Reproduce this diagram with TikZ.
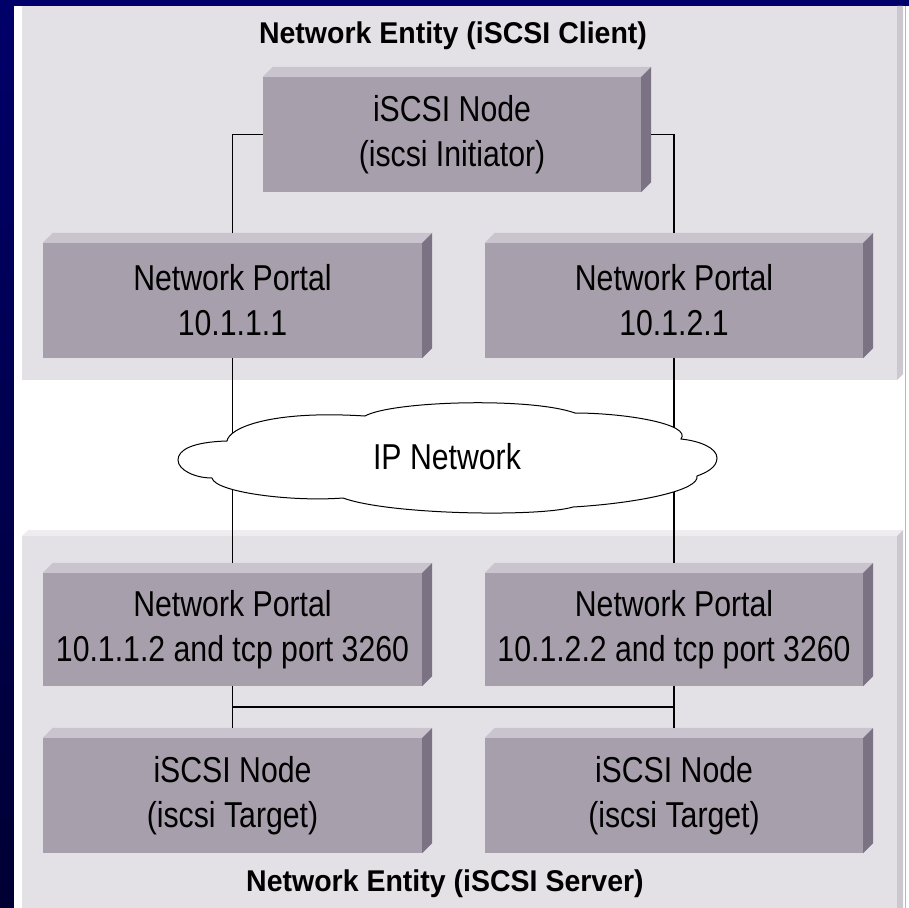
\documentclass[tikz,border=0pt]{standalone}
\usepackage{fontspec}
\newfontfamily\boxfont{Liberation Sans}[FakeStretch=0.84]
\newfontfamily\headfont{Liberation Sans}[FakeStretch=0.95]
\usetikzlibrary{calc}

\definecolor{navytop}{HTML}{00006A}
\definecolor{navybot}{HTML}{000034}
\definecolor{panelfront}{HTML}{E3E0E6}
\definecolor{paneltop}{HTML}{EEECF0}
\definecolor{panelside}{HTML}{CCC8D0}
\definecolor{boxfront}{HTML}{A7A0AC}
\definecolor{boxtop}{HTML}{C9C4CD}
\definecolor{boxside}{HTML}{7B7384}

\tikzset{
  unit/.style={fill=boxfront, inner sep=0pt, align=center, text=black,
    minimum width=379pt, minimum height=115pt,
    font=\boxfont\fontsize{36}{45}\selectfont},
  wire/.style={draw=black, line width=1.3pt},
  heading/.style={inner sep=0pt, text=black,
    font=\headfont\bfseries\fontsize{30}{36}\selectfont},
  cloudtext/.style={inner sep=0pt, text=black,
    font=\boxfont\fontsize{36}{45}\selectfont},
}

% top and right faces of an extruded box node
\newcommand\extrude[2]{%
  \fill[boxtop] (#1.north west) -- (#1.north east)
    -- ([shift={(#2,-#2)}]#1.north east) -- ([shift={(#2,-#2)}]#1.north west) -- cycle;
  \fill[boxside] (#1.north east) -- (#1.south east)
    -- ([shift={(#2,-#2)}]#1.south east) -- ([shift={(#2,-#2)}]#1.north east) -- cycle;
}

\begin{document}
\begin{tikzpicture}[x=1pt,y=-1pt]
\useasboundingbox (0,0) rectangle (909,907);

% slide background and white sheet
\shade[top color=navytop, bottom color=navybot] (-2,-2) rectangle (911,910);
\fill[white] (14,6) rectangle (911,910);
\draw[color=black!25!blue!30, line width=1pt] (905.5,6) -- (905.5,910);

% upper panel (client entity)
\fill[panelfront] (22,6) rectangle (897,380);
\fill[panelside] (897,380) -- (903,374) -- (903,6) -- (897,6) -- cycle;

% lower panel (server entity)
\fill[paneltop] (22,536) -- (897,536) -- (903,530) -- (28,530) -- cycle;
\fill[panelfront] (22,536) rectangle (897,910);
\fill[panelside] (897,536) -- (903,530) -- (903,910) -- (897,910) -- cycle;

% headings
\node[heading] (hc) at (453,36) {Network Entity (iSCSI Client)};
\node[heading] (hs) at (445,884) {Network Entity (iSCSI Server)};

% boxes
\node[unit, minimum width=378pt] (init) at (452,134.5) {iSCSI Node\\(iscsi Initiator)};
\node[unit] (pL1) at (232.5,300.5) {Network Portal\\10.1.1.1};
\node[unit, minimum width=378pt] (pR1) at (674,300.5) {Network Portal\\10.1.2.1};
\node[unit, minimum height=113pt] (pL2) at (232.5,629.5) {Network Portal\\10.1.1.2 and tcp port 3260};
\node[unit, minimum width=378pt, minimum height=113pt] (pR2) at (674,629.5) {Network Portal\\10.1.2.2 and tcp port 3260};
\node[unit] (tL) at (232.5,795.5) {iSCSI Node\\(iscsi Target)};
\node[unit, minimum width=378pt] (tR) at (674,795.5) {iSCSI Node\\(iscsi Target)};

\foreach \b in {init,pL1,pR1,pL2,pR2,tL,tR} {\extrude{\b}{10}}

% connectors
\draw[wire] (init.west) -| ([yshift=10pt]pL1.north);
\draw[wire] ([xshift=10pt]init.east) -| ([yshift=10pt]pR1.north);
\draw[wire] (pL1.south) -- ([yshift=10pt]pL2.north);
\draw[wire] (pR1.south) -- ([yshift=10pt]pR2.north);
\draw[wire] (pL2.south) -- ([yshift=10pt]tL.north);
\draw[wire] (pR2.south) -- ([yshift=10pt]tR.north);
\coordinate (jL) at ($(pL2.south)!0.5!([yshift=10pt]tL.north)$);
\coordinate (jR) at ($(pR2.south)!0.5!([yshift=10pt]tR.north)$);
\draw[wire] (jL) -- (jR);

% IP network cloud
\draw[fill=white, line width=1pt]
  (178,460) .. controls (178,450) and (192,442) .. (227,441)
  .. controls (229,428) and (270,410) .. (365,416)
  .. controls (392,401) and (530,397) .. (575,413)
  .. controls (625,413) and (692,424) .. (681,439)
  .. controls (700,441) and (717,448) .. (717,458)
  .. controls (717,468) and (705,473) .. (697,476)
  .. controls (700,490) and (640,503) .. (573,507)
  .. controls (540,517) and (390,515) .. (343,498)
  .. controls (290,502) and (215,492) .. (212,478)
  .. controls (195,478) and (178,470) .. (178,460) -- cycle;
\node[cloudtext] (ipnet) at (447,457) {IP Network};
\end{tikzpicture}
\end{document}
